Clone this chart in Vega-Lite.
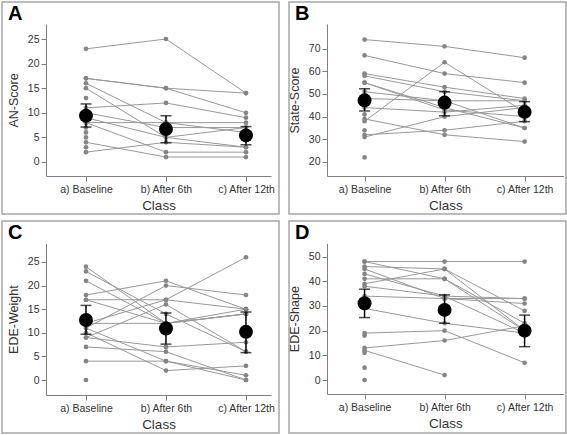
{
"$schema":"https://vega.github.io/schema/vega-lite/v6.json",
"background":"white",
"padding":{"left":1,"top":1,"right":0,"bottom":0},
"datasets":{
"subj":[
{"p":"A","id":"A1","cls":"a) Baseline","v":23},{"p":"A","id":"A1","cls":"b) After 6th","v":25},{"p":"A","id":"A1","cls":"c) After 12th","v":14},
{"p":"A","id":"A2","cls":"a) Baseline","v":17},{"p":"A","id":"A2","cls":"b) After 6th","v":15},{"p":"A","id":"A2","cls":"c) After 12th","v":14},
{"p":"A","id":"A3","cls":"a) Baseline","v":17},{"p":"A","id":"A3","cls":"b) After 6th","v":15},{"p":"A","id":"A3","cls":"c) After 12th","v":10},
{"p":"A","id":"A4","cls":"a) Baseline","v":16},{"p":"A","id":"A4","cls":"b) After 6th","v":8},{"p":"A","id":"A4","cls":"c) After 12th","v":8},
{"p":"A","id":"A5","cls":"a) Baseline","v":15},{"p":"A","id":"A5","cls":"b) After 6th","v":5},{"p":"A","id":"A5","cls":"c) After 12th","v":7},
{"p":"A","id":"A6","cls":"a) Baseline","v":13},
{"p":"A","id":"A7","cls":"a) Baseline","v":11},{"p":"A","id":"A7","cls":"b) After 6th","v":12},{"p":"A","id":"A7","cls":"c) After 12th","v":9},
{"p":"A","id":"A8","cls":"a) Baseline","v":10},{"p":"A","id":"A8","cls":"b) After 6th","v":7},{"p":"A","id":"A8","cls":"c) After 12th","v":7},
{"p":"A","id":"A9","cls":"a) Baseline","v":9},{"p":"A","id":"A9","cls":"b) After 6th","v":5},{"p":"A","id":"A9","cls":"c) After 12th","v":3},
{"p":"A","id":"A10","cls":"a) Baseline","v":8},{"p":"A","id":"A10","cls":"b) After 6th","v":2},{"p":"A","id":"A10","cls":"c) After 12th","v":2},
{"p":"A","id":"A11","cls":"a) Baseline","v":8},{"p":"A","id":"A11","cls":"b) After 6th","v":8},{"p":"A","id":"A11","cls":"c) After 12th","v":6},
{"p":"A","id":"A12","cls":"a) Baseline","v":4},{"p":"A","id":"A12","cls":"b) After 6th","v":1},{"p":"A","id":"A12","cls":"c) After 12th","v":1},
{"p":"A","id":"A13","cls":"a) Baseline","v":2},{"p":"A","id":"A13","cls":"b) After 6th","v":4},{"p":"A","id":"A13","cls":"c) After 12th","v":3},
{"p":"A","id":"A14","cls":"a) Baseline","v":7},
{"p":"A","id":"A15","cls":"a) Baseline","v":6},
{"p":"A","id":"A16","cls":"a) Baseline","v":5},
{"p":"A","id":"A17","cls":"a) Baseline","v":3},
{"p":"B","id":"B1","cls":"a) Baseline","v":74},{"p":"B","id":"B1","cls":"b) After 6th","v":71},{"p":"B","id":"B1","cls":"c) After 12th","v":66},
{"p":"B","id":"B2","cls":"a) Baseline","v":67},{"p":"B","id":"B2","cls":"b) After 6th","v":59},{"p":"B","id":"B2","cls":"c) After 12th","v":55},
{"p":"B","id":"B3","cls":"a) Baseline","v":59},{"p":"B","id":"B3","cls":"b) After 6th","v":53},{"p":"B","id":"B3","cls":"c) After 12th","v":48},
{"p":"B","id":"B4","cls":"a) Baseline","v":58},{"p":"B","id":"B4","cls":"b) After 6th","v":51},{"p":"B","id":"B4","cls":"c) After 12th","v":47},
{"p":"B","id":"B5","cls":"a) Baseline","v":55},{"p":"B","id":"B5","cls":"b) After 6th","v":44},{"p":"B","id":"B5","cls":"c) After 12th","v":35},
{"p":"B","id":"B6","cls":"a) Baseline","v":55},{"p":"B","id":"B6","cls":"b) After 6th","v":43},{"p":"B","id":"B6","cls":"c) After 12th","v":40},
{"p":"B","id":"B7","cls":"a) Baseline","v":38},{"p":"B","id":"B7","cls":"b) After 6th","v":64},{"p":"B","id":"B7","cls":"c) After 12th","v":42},
{"p":"B","id":"B8","cls":"a) Baseline","v":48},{"p":"B","id":"B8","cls":"b) After 6th","v":47},{"p":"B","id":"B8","cls":"c) After 12th","v":47},
{"p":"B","id":"B9","cls":"a) Baseline","v":44},{"p":"B","id":"B9","cls":"b) After 6th","v":42},{"p":"B","id":"B9","cls":"c) After 12th","v":45},
{"p":"B","id":"B10","cls":"a) Baseline","v":39},{"p":"B","id":"B10","cls":"b) After 6th","v":32},{"p":"B","id":"B10","cls":"c) After 12th","v":29},
{"p":"B","id":"B11","cls":"a) Baseline","v":31},{"p":"B","id":"B11","cls":"b) After 6th","v":40},{"p":"B","id":"B11","cls":"c) After 12th","v":44},
{"p":"B","id":"B12","cls":"a) Baseline","v":32},{"p":"B","id":"B12","cls":"b) After 6th","v":34},{"p":"B","id":"B12","cls":"c) After 12th","v":38},
{"p":"B","id":"B13","cls":"a) Baseline","v":51},{"p":"B","id":"B13","cls":"b) After 6th","v":47},{"p":"B","id":"B13","cls":"c) After 12th","v":35},
{"p":"B","id":"B14","cls":"a) Baseline","v":22},
{"p":"B","id":"B15","cls":"a) Baseline","v":34},
{"p":"B","id":"B16","cls":"a) Baseline","v":41},
{"p":"C","id":"C1","cls":"a) Baseline","v":24},{"p":"C","id":"C1","cls":"b) After 6th","v":12},{"p":"C","id":"C1","cls":"c) After 12th","v":15},
{"p":"C","id":"C2","cls":"a) Baseline","v":23},{"p":"C","id":"C2","cls":"b) After 6th","v":14},{"p":"C","id":"C2","cls":"c) After 12th","v":6},
{"p":"C","id":"C3","cls":"a) Baseline","v":21},{"p":"C","id":"C3","cls":"b) After 6th","v":12},{"p":"C","id":"C3","cls":"c) After 12th","v":14},
{"p":"C","id":"C4","cls":"a) Baseline","v":18},{"p":"C","id":"C4","cls":"b) After 6th","v":21},{"p":"C","id":"C4","cls":"c) After 12th","v":15},
{"p":"C","id":"C5","cls":"a) Baseline","v":17},{"p":"C","id":"C5","cls":"b) After 6th","v":17},{"p":"C","id":"C5","cls":"c) After 12th","v":15},
{"p":"C","id":"C6","cls":"a) Baseline","v":17},{"p":"C","id":"C6","cls":"b) After 6th","v":12},{"p":"C","id":"C6","cls":"c) After 12th","v":14},
{"p":"C","id":"C7","cls":"a) Baseline","v":12},{"p":"C","id":"C7","cls":"b) After 6th","v":17},{"p":"C","id":"C7","cls":"c) After 12th","v":26},
{"p":"C","id":"C8","cls":"a) Baseline","v":11},{"p":"C","id":"C8","cls":"b) After 6th","v":20},{"p":"C","id":"C8","cls":"c) After 12th","v":18},
{"p":"C","id":"C9","cls":"a) Baseline","v":12},{"p":"C","id":"C9","cls":"b) After 6th","v":12},{"p":"C","id":"C9","cls":"c) After 12th","v":14},
{"p":"C","id":"C10","cls":"a) Baseline","v":9},{"p":"C","id":"C10","cls":"b) After 6th","v":7},{"p":"C","id":"C10","cls":"c) After 12th","v":8},
{"p":"C","id":"C11","cls":"a) Baseline","v":11},{"p":"C","id":"C11","cls":"b) After 6th","v":4},{"p":"C","id":"C11","cls":"c) After 12th","v":1},
{"p":"C","id":"C12","cls":"a) Baseline","v":10},{"p":"C","id":"C12","cls":"b) After 6th","v":2},{"p":"C","id":"C12","cls":"c) After 12th","v":3},
{"p":"C","id":"C13","cls":"a) Baseline","v":7},{"p":"C","id":"C13","cls":"b) After 6th","v":6},{"p":"C","id":"C13","cls":"c) After 12th","v":0},
{"p":"C","id":"C14","cls":"a) Baseline","v":4},{"p":"C","id":"C14","cls":"b) After 6th","v":4},{"p":"C","id":"C14","cls":"c) After 12th","v":0},
{"p":"C","id":"C15","cls":"a) Baseline","v":9},{"p":"C","id":"C15","cls":"b) After 6th","v":16},{"p":"C","id":"C15","cls":"c) After 12th","v":6},
{"p":"C","id":"C16","cls":"a) Baseline","v":0},
{"p":"D","id":"D1","cls":"a) Baseline","v":48},{"p":"D","id":"D1","cls":"b) After 6th","v":48},{"p":"D","id":"D1","cls":"c) After 12th","v":48},
{"p":"D","id":"D2","cls":"a) Baseline","v":48},{"p":"D","id":"D2","cls":"b) After 6th","v":41},{"p":"D","id":"D2","cls":"c) After 12th","v":23},
{"p":"D","id":"D3","cls":"a) Baseline","v":46},{"p":"D","id":"D3","cls":"b) After 6th","v":45},{"p":"D","id":"D3","cls":"c) After 12th","v":20},
{"p":"D","id":"D4","cls":"a) Baseline","v":45},{"p":"D","id":"D4","cls":"b) After 6th","v":33},{"p":"D","id":"D4","cls":"c) After 12th","v":31},
{"p":"D","id":"D5","cls":"a) Baseline","v":41},{"p":"D","id":"D5","cls":"b) After 6th","v":41},{"p":"D","id":"D5","cls":"c) After 12th","v":20},
{"p":"D","id":"D6","cls":"a) Baseline","v":39},{"p":"D","id":"D6","cls":"b) After 6th","v":45},{"p":"D","id":"D6","cls":"c) After 12th","v":28},
{"p":"D","id":"D7","cls":"a) Baseline","v":38},{"p":"D","id":"D7","cls":"b) After 6th","v":34},{"p":"D","id":"D7","cls":"c) After 12th","v":33},
{"p":"D","id":"D8","cls":"a) Baseline","v":34},{"p":"D","id":"D8","cls":"b) After 6th","v":33},{"p":"D","id":"D8","cls":"c) After 12th","v":33},
{"p":"D","id":"D9","cls":"a) Baseline","v":43},{"p":"D","id":"D9","cls":"b) After 6th","v":34},{"p":"D","id":"D9","cls":"c) After 12th","v":19},
{"p":"D","id":"D10","cls":"a) Baseline","v":29},{"p":"D","id":"D10","cls":"b) After 6th","v":23},{"p":"D","id":"D10","cls":"c) After 12th","v":19},
{"p":"D","id":"D11","cls":"a) Baseline","v":19},{"p":"D","id":"D11","cls":"b) After 6th","v":20},{"p":"D","id":"D11","cls":"c) After 12th","v":7},
{"p":"D","id":"D12","cls":"a) Baseline","v":13},{"p":"D","id":"D12","cls":"b) After 6th","v":16},{"p":"D","id":"D12","cls":"c) After 12th","v":22},
{"p":"D","id":"D13","cls":"a) Baseline","v":12},{"p":"D","id":"D13","cls":"b) After 6th","v":2},
{"p":"D","id":"D14","cls":"a) Baseline","v":18},
{"p":"D","id":"D15","cls":"a) Baseline","v":11},
{"p":"D","id":"D16","cls":"a) Baseline","v":5},
{"p":"D","id":"D17","cls":"a) Baseline","v":0}
],
"means":[
{"p":"A","cls":"a) Baseline","v":9.4,"lo":7.1,"hi":11.8},{"p":"A","cls":"b) After 6th","v":6.7,"lo":3.9,"hi":9.4},{"p":"A","cls":"c) After 12th","v":5.4,"lo":3.5,"hi":7.2},
{"p":"B","cls":"a) Baseline","v":47.2,"lo":42.5,"hi":52.3},{"p":"B","cls":"b) After 6th","v":46.2,"lo":40.4,"hi":51.0},{"p":"B","cls":"c) After 12th","v":42.1,"lo":37.8,"hi":46.6},
{"p":"C","cls":"a) Baseline","v":12.7,"lo":9.7,"hi":15.8},{"p":"C","cls":"b) After 6th","v":10.9,"lo":7.6,"hi":14.2},{"p":"C","cls":"c) After 12th","v":10.2,"lo":5.8,"hi":14.4},
{"p":"D","cls":"a) Baseline","v":31.1,"lo":25.3,"hi":36.8},{"p":"D","cls":"b) After 6th","v":28.4,"lo":23.0,"hi":34.5},{"p":"D","cls":"c) After 12th","v":20.0,"lo":13.5,"hi":26.3}
]
},
"vconcat":[
{"hconcat":[
{"width":277,"height":212,
 "title":{"text":"A"},
 "encoding":{
  "x":{"field":"cls","type":"ordinal","scale":{"type":"point","domain":["a) Baseline","b) After 6th","c) After 12th"],"range":[44,269],"padding":0.40625,"align":0.615},"axis":{"title":"Class","offset":-38}},
  "y":{"field":"v","type":"quantitative","scale":{"domain":[-2.85,28.05],"range":[174,22],"nice":false,"zero":false},"axis":{"title":"AN-Score","offset":-44,"values":[0,5,10,15,20,25]}}
 },
 "layer":[
  {"data":{"name":"subj"},"transform":[{"filter":"datum.p==='A'"}],"mark":{"type":"line","color":"#999999","strokeWidth":1},"encoding":{"detail":{"field":"id"}}},
  {"data":{"name":"subj"},"transform":[{"filter":"datum.p==='A'"}],"mark":{"type":"circle","color":"#858585","size":22,"opacity":1},"encoding":{}},
  {"data":{"name":"means"},"transform":[{"filter":"datum.p==='A'"}],"mark":{"type":"rule","color":"#000","strokeWidth":1.5},"encoding":{"y":{"field":"lo","type":"quantitative"},"y2":{"field":"hi"}}},
  {"data":{"name":"means"},"transform":[{"filter":"datum.p==='A'"}],"mark":{"type":"tick","color":"#000","thickness":1.5,"size":11,"orient":"horizontal"},"encoding":{"y":{"field":"lo","type":"quantitative"}}},
  {"data":{"name":"means"},"transform":[{"filter":"datum.p==='A'"}],"mark":{"type":"tick","color":"#000","thickness":1.5,"size":11,"orient":"horizontal"},"encoding":{"y":{"field":"hi","type":"quantitative"}}},
  {"data":{"name":"means"},"transform":[{"filter":"datum.p==='A'"}],"mark":{"type":"circle","color":"#000","size":195,"opacity":1},"encoding":{}}
 ]},
{"width":277,"height":212,
 "title":{"text":"B"},
 "encoding":{
  "x":{"field":"cls","type":"ordinal","scale":{"type":"point","domain":["a) Baseline","b) After 6th","c) After 12th"],"range":[38,274.7],"padding":0.479,"align":0.49},"axis":{"title":"Class","offset":-38}},
  "y":{"field":"v","type":"quantitative","scale":{"domain":[13.82,80.87],"range":[174,22],"nice":false,"zero":false},"axis":{"title":"State-Score","offset":-38,"values":[20,30,40,50,60,70]}}
 },
 "layer":[
  {"data":{"name":"subj"},"transform":[{"filter":"datum.p==='B'"}],"mark":{"type":"line","color":"#999999","strokeWidth":1},"encoding":{"detail":{"field":"id"}}},
  {"data":{"name":"subj"},"transform":[{"filter":"datum.p==='B'"}],"mark":{"type":"circle","color":"#858585","size":22,"opacity":1},"encoding":{}},
  {"data":{"name":"means"},"transform":[{"filter":"datum.p==='B'"}],"mark":{"type":"rule","color":"#000","strokeWidth":1.5},"encoding":{"y":{"field":"lo","type":"quantitative"},"y2":{"field":"hi"}}},
  {"data":{"name":"means"},"transform":[{"filter":"datum.p==='B'"}],"mark":{"type":"tick","color":"#000","thickness":1.5,"size":11,"orient":"horizontal"},"encoding":{"y":{"field":"lo","type":"quantitative"}}},
  {"data":{"name":"means"},"transform":[{"filter":"datum.p==='B'"}],"mark":{"type":"tick","color":"#000","thickness":1.5,"size":11,"orient":"horizontal"},"encoding":{"y":{"field":"hi","type":"quantitative"}}},
  {"data":{"name":"means"},"transform":[{"filter":"datum.p==='B'"}],"mark":{"type":"circle","color":"#000","size":195,"opacity":1},"encoding":{}}
 ]}
],"spacing":7},
{"hconcat":[
{"width":277,"height":212,
 "title":{"text":"C"},
 "encoding":{
  "x":{"field":"cls","type":"ordinal","scale":{"type":"point","domain":["a) Baseline","b) After 6th","c) After 12th"],"range":[44,269],"padding":0.40625,"align":0.615},"axis":{"title":"Class","offset":-38}},
  "y":{"field":"v","type":"quantitative","scale":{"domain":[-3.17,28.95],"range":[174,22.3],"nice":false,"zero":false},"axis":{"title":"EDE-Weight","offset":-44,"values":[0,5,10,15,20,25]}}
 },
 "layer":[
  {"data":{"name":"subj"},"transform":[{"filter":"datum.p==='C'"}],"mark":{"type":"line","color":"#999999","strokeWidth":1},"encoding":{"detail":{"field":"id"}}},
  {"data":{"name":"subj"},"transform":[{"filter":"datum.p==='C'"}],"mark":{"type":"circle","color":"#858585","size":22,"opacity":1},"encoding":{}},
  {"data":{"name":"means"},"transform":[{"filter":"datum.p==='C'"}],"mark":{"type":"rule","color":"#000","strokeWidth":1.5},"encoding":{"y":{"field":"lo","type":"quantitative"},"y2":{"field":"hi"}}},
  {"data":{"name":"means"},"transform":[{"filter":"datum.p==='C'"}],"mark":{"type":"tick","color":"#000","thickness":1.5,"size":11,"orient":"horizontal"},"encoding":{"y":{"field":"lo","type":"quantitative"}}},
  {"data":{"name":"means"},"transform":[{"filter":"datum.p==='C'"}],"mark":{"type":"tick","color":"#000","thickness":1.5,"size":11,"orient":"horizontal"},"encoding":{"y":{"field":"hi","type":"quantitative"}}},
  {"data":{"name":"means"},"transform":[{"filter":"datum.p==='C'"}],"mark":{"type":"circle","color":"#000","size":195,"opacity":1},"encoding":{}}
 ]},
{"width":277,"height":212,
 "title":{"text":"D"},
 "encoding":{
  "x":{"field":"cls","type":"ordinal","scale":{"type":"point","domain":["a) Baseline","b) After 6th","c) After 12th"],"range":[38,274.7],"padding":0.479,"align":0.49},"axis":{"title":"Class","offset":-39}},
  "y":{"field":"v","type":"quantitative","scale":{"domain":[-5.67,55.4],"range":[173,22.3],"nice":false,"zero":false},"axis":{"title":"EDE-Shape","offset":-38,"values":[0,10,20,30,40,50]}}
 },
 "layer":[
  {"data":{"name":"subj"},"transform":[{"filter":"datum.p==='D'"}],"mark":{"type":"line","color":"#999999","strokeWidth":1},"encoding":{"detail":{"field":"id"}}},
  {"data":{"name":"subj"},"transform":[{"filter":"datum.p==='D'"}],"mark":{"type":"circle","color":"#858585","size":22,"opacity":1},"encoding":{}},
  {"data":{"name":"means"},"transform":[{"filter":"datum.p==='D'"}],"mark":{"type":"rule","color":"#000","strokeWidth":1.5},"encoding":{"y":{"field":"lo","type":"quantitative"},"y2":{"field":"hi"}}},
  {"data":{"name":"means"},"transform":[{"filter":"datum.p==='D'"}],"mark":{"type":"tick","color":"#000","thickness":1.5,"size":11,"orient":"horizontal"},"encoding":{"y":{"field":"lo","type":"quantitative"}}},
  {"data":{"name":"means"},"transform":[{"filter":"datum.p==='D'"}],"mark":{"type":"tick","color":"#000","thickness":1.5,"size":11,"orient":"horizontal"},"encoding":{"y":{"field":"hi","type":"quantitative"}}},
  {"data":{"name":"means"},"transform":[{"filter":"datum.p==='D'"}],"mark":{"type":"circle","color":"#000","size":195,"opacity":1},"encoding":{}}
 ]}
],"spacing":7}
],
"spacing":5,
"config":{
 "view":{"stroke":"#a6a6a6","strokeWidth":1.5},
 "title":{"anchor":"start","frame":"group","offset":-22,"baseline":"alphabetic","dx":6,"fontSize":20,"fontWeight":"bold","font":"Liberation Sans","color":"#000"},
 "axis":{"grid":false,"domainColor":"#808080","tickColor":"#808080","tickSize":5,"labelColor":"#333","titleColor":"#333","labelFont":"Liberation Sans","titleFont":"Liberation Sans","labelFontSize":10.5,"titleFontSize":12.5,"titleFontWeight":"normal","labelPadding":2},
 "axisX":{"labelAngle":0,"labelPadding":3,"titlePadding":4,"titleFontSize":13.5},
 "axisY":{"titlePadding":7}
}
}
